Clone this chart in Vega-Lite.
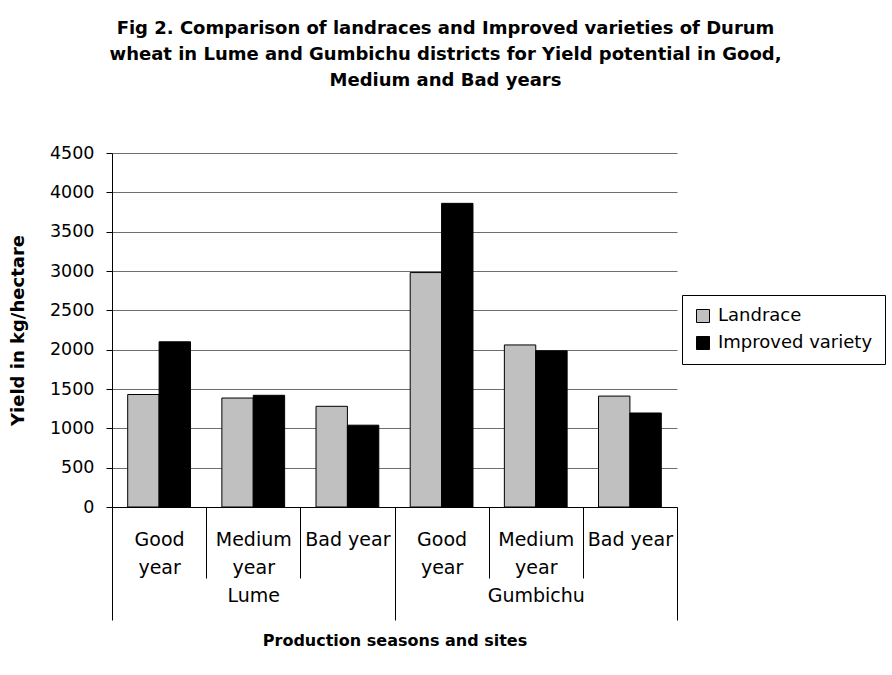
{
  "$schema": "https://vega.github.io/schema/vega-lite/v6.json",
  "width": 565,
  "height": 354,
  "autosize": "none",
  "padding": {"left": 112, "top": 153, "right": 215, "bottom": 168},
  "background": "white",
  "title": {
    "text": ["Fig 2. Comparison of landraces and Improved varieties of Durum", "wheat in Lume and Gumbichu districts for Yield potential in Good,", "Medium and Bad years"],
    "fontSize": 18,
    "fontWeight": "bold",
    "lineHeight": 26,
    "color": "black",
    "anchor": "middle",
    "dx": 51,
    "offset": 54
  },
  "data": {
    "values": [
      {"slot": "Lume/Good year", "site": "Lume", "variety": "Landrace", "yield": 1430},
      {"slot": "Lume/Good year", "site": "Lume", "variety": "Improved variety", "yield": 2100},
      {"slot": "Lume/Medium year", "site": "Lume", "variety": "Landrace", "yield": 1385},
      {"slot": "Lume/Medium year", "site": "Lume", "variety": "Improved variety", "yield": 1420},
      {"slot": "Lume/Bad year", "site": "Lume", "variety": "Landrace", "yield": 1280},
      {"slot": "Lume/Bad year", "site": "Lume", "variety": "Improved variety", "yield": 1040},
      {"slot": "Gumbichu/Good year", "site": "Gumbichu", "variety": "Landrace", "yield": 2980},
      {"slot": "Gumbichu/Good year", "site": "Gumbichu", "variety": "Improved variety", "yield": 3860},
      {"slot": "Gumbichu/Medium year", "site": "Gumbichu", "variety": "Landrace", "yield": 2060},
      {"slot": "Gumbichu/Medium year", "site": "Gumbichu", "variety": "Improved variety", "yield": 1985},
      {"slot": "Gumbichu/Bad year", "site": "Gumbichu", "variety": "Landrace", "yield": 1410},
      {"slot": "Gumbichu/Bad year", "site": "Gumbichu", "variety": "Improved variety", "yield": 1195}
    ]
  },
  "mark": {"type": "bar", "stroke": "black", "strokeWidth": 1},
  "encoding": {
    "x": {
      "field": "slot",
      "type": "nominal",
      "sort": ["Lume/Good year", "Lume/Medium year", "Lume/Bad year", "Gumbichu/Good year", "Gumbichu/Medium year", "Gumbichu/Bad year"],
      "scale": {"paddingInner": 0, "paddingOuter": 0},
      "axis": {
        "title": "Production seasons and sites",
        "titleFontSize": 16,
        "titleFontWeight": "bold",
        "titleColor": "black",
        "titlePadding": 12,
        "labelExpr": "datum.value == 'Lume/Medium year' ? ['Medium', 'year', 'Lume'] : datum.value == 'Gumbichu/Medium year' ? ['Medium', 'year', 'Gumbichu'] : datum.value == 'Lume/Good year' || datum.value == 'Gumbichu/Good year' ? ['Good', 'year'] : datum.value == 'Lume/Bad year' || datum.value == 'Gumbichu/Bad year' ? 'Bad year' : ''",
        "tickBand": "extent",
        "tickSize": {"condition": {"test": "datum.value == 'Lume/Good year' || datum.value == 'Lume/Medium year' || datum.value == 'Gumbichu/Good year' || datum.value == 'Gumbichu/Medium year'", "value": 71}, "value": 113},
        "tickColor": "black",
        "domainColor": "black",
        "labelPadding": {"condition": {"test": "datum.value == 'Lume/Bad year' || datum.value == 'Gumbichu/Bad year'", "value": -90}, "value": -48},
        "labelBaseline": "top",
        "labelFontSize": 19,
        "labelLineHeight": 28,
        "labelAngle": 0,
        "labelColor": "black",
        "labelOverlap": false,
        "grid": false
      }
    },
    "xOffset": {
      "field": "variety",
      "type": "nominal",
      "sort": ["Landrace", "Improved variety"],
      "scale": {"paddingInner": 0, "paddingOuter": 0.5}
    },
    "y": {
      "field": "yield",
      "type": "quantitative",
      "scale": {"domain": [0, 4500], "nice": false},
      "axis": {
        "title": "Yield in kg/hectare",
        "values": [0, 500, 1000, 1500, 2000, 2500, 3000, 3500, 4000, 4500],
        "format": "d",
        "grid": true,
        "gridColor": "#6e6e6e",
        "domainColor": "black",
        "tickColor": "black",
        "tickSize": 6,
        "labelFontSize": 17.5,
        "labelColor": "black",
        "labelPadding": 12,
        "titleFontSize": 18,
        "titleFontWeight": "bold",
        "titleColor": "black",
        "titlePadding": 22
      }
    },
    "color": {
      "field": "variety",
      "type": "nominal",
      "sort": ["Landrace", "Improved variety"],
      "scale": {"domain": ["Landrace", "Improved variety"], "range": ["#C0C0C0", "#000000"]},
      "legend": {
        "title": null,
        "orient": "none",
        "legendX": 570,
        "legendY": 142,
        "strokeColor": "black",
        "padding": 12,
        "symbolType": "square",
        "symbolSize": 169,
        "symbolStrokeColor": "black",
        "symbolStrokeWidth": 1,
        "labelFontSize": 18,
        "labelColor": "black",
        "labelOffset": 6,
        "rowPadding": 9,
        "fillColor": "white"
      }
    }
  },
  "config": {
    "font": "DejaVu Sans",
    "view": {"stroke": null}
  }
}
